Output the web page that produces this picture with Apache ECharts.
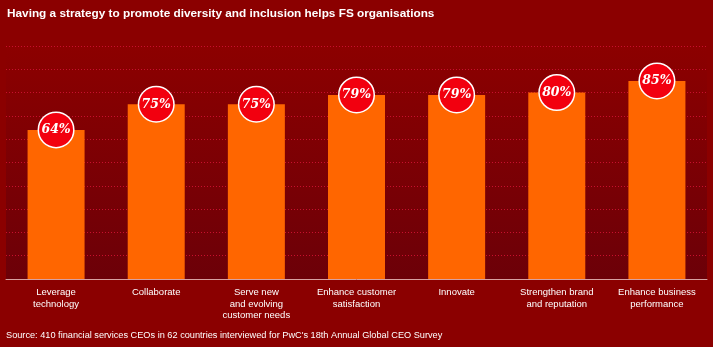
<!DOCTYPE html>
<html><head><meta charset="utf-8">
<script src="https://cdn.jsdelivr.net/npm/echarts@6/dist/echarts.min.js"></script>
<style>html,body{margin:0;padding:0;background:#8b0000;}#c{width:713px;height:347px;}</style>
</head><body><div id="c"></div>
<script>
const categories = ['Leverage\ntechnology','Collaborate','Serve new\nand evolving\ncustomer needs','Enhance customer\nsatisfaction','Innovate','Strengthen brand\nand reputation','Enhance business\nperformance'];
const values = [64,75,75,79,79,80,85];
const yTicks = {min:0, max:100, interval:10};
const chart = echarts.init(document.getElementById('c'));
chart.setOption({
  backgroundColor:'#8b0000',
  animation:false,
  title:{text:'Having a strategy to promote diversity and inclusion helps FS organisations',left:2,top:3,
    textStyle:{color:'#fff',fontSize:11.8,fontWeight:'bold',fontFamily:'Liberation Sans'}},
  graphic:[{type:'text',left:6,top:331,style:{text:"Source: 410 financial services CEOs in 62 countries interviewed for PwC's 18th Annual Global CEO Survey",fill:'#fff',fontSize:9.2,fontFamily:'Liberation Sans'}}],
  grid:{left:6,right:6,top:46,bottom:68,show:true,borderWidth:0,
    backgroundColor:{type:'linear',x:0,y:0,x2:0,y2:1,colorStops:[{offset:0,color:'#8c0000'},{offset:1,color:'#6c0008'}]}},
  xAxis:{type:'category',data:categories,
    axisLine:{lineStyle:{color:'#d8a0a0',width:1}},axisTick:{show:false},
    axisLabel:{color:'#fff',fontSize:9.5,fontFamily:'Liberation Sans',lineHeight:11.3,margin:8,interval:0}},
  yAxis:{type:'value',min:yTicks.min,max:yTicks.max,interval:yTicks.interval,
    axisLabel:{show:false},axisLine:{show:false},axisTick:{show:false},
    splitLine:{lineStyle:{color:'#c8102e',type:[1,2],width:1}}},
  series:[{type:'bar',data:values,barWidth:57,itemStyle:{color:'#ff6600'},
    label:{show:true,position:['50%',0],align:'center',verticalAlign:'middle',
      formatter:'{c}%',color:'#fff',fontFamily:'DejaVu Serif',fontWeight:'bold',fontStyle:'italic',fontSize:12.5,
      backgroundColor:'#f2000f',borderColor:'#fff',borderWidth:1.5,width:34,height:34,lineHeight:34,borderRadius:18,padding:0}}]
});
</script></body></html>
